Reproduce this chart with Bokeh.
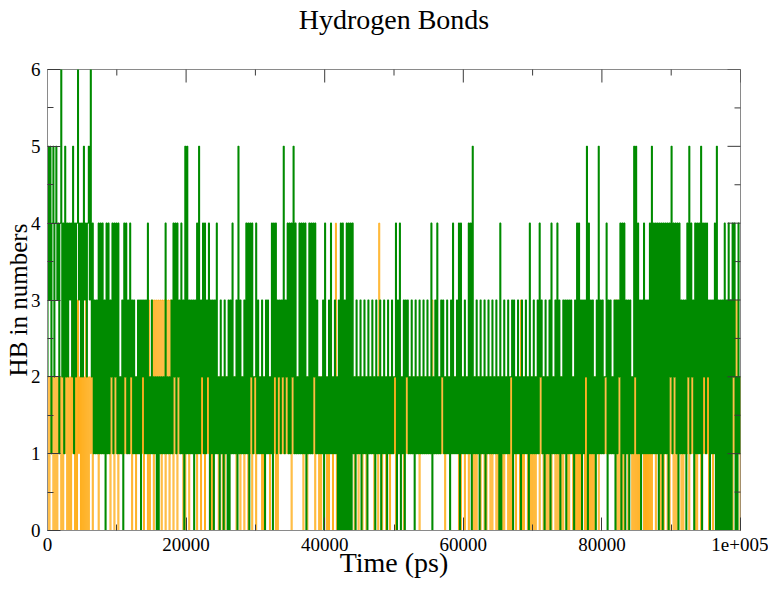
import numpy as np
from bokeh.plotting import figure
from bokeh.models import Range1d, FixedTicker, LinearAxis
from bokeh.embed import file_html
from bokeh.resources import INLINE

# ---- data: number of hydrogen bonds per frame ----
T_START = 0
T_END = 100000

# set 0 (orange)
HB_SET0 = (
    "0202120202" "0212020212" "0202021202" "0312020203" "0202120212"
    "1202121212" "1212021202" "1202121212" "1212120212" "0212121202"
    "1203021303" "1303130313" "0313031202" "1202121202" "0212021212"
    "1202120212" "0212120202" "1212021202" "0212021212" "1202120212"
    "0212021202" "1202121202" "0212120212" "1202021212" "1212121202"
    "1312121212" "0212021212" "1202120202" "1212020212" "0214020212"
    "0212021202" "1202120212" "0212021212" "1202120412" "0212021202"
    "1212021212" "1202121212" "1212121202" "1212121212" "1312121212"
    "1212021212" "1212121202" "0212021202" "1202020212" "0212020212"
    "0202120202" "1202021202" "0202120212" "0302021202" "0202020212"
    "0212020202" "0302120202" "0202021202" "0212020202" "0202120202"
    "0202020212" "0212121212" "1212121303" "0202020212" "0212020202"
    "0202120202" "0202021202" "1202020212" "0202120202" "0212020212"
    "1202121202" "0212021212" "1202120212" "0212021202" "1202120313"
    "03120"
)

# set 1 (green)
HB_SET1 = (
    "2535145245" "3414624152" "4243425142" "4634242534" "2453624"
    "1313141414" "1304141324" "1424141213" "0424131423" "1312131303"
    "2313141213" "1212020212" "1214121213" "1424142314" "1305151313"
    "1303141513" "2414132403" "1303141203" "1203120303" "1412130513"
    "1213141404" "2412241312" "1312031312" "1404241323" "1325132414"
    "1425141214" "1414140214" "1414241312" "1213041213" "1412131203"
    "0404030404" "0404120312" "1302131203" "1213120312" "1302131203"
    "1213122403" "1402130323" "1213120312" "1312131213" "1214021314"
    "1213231213" "1203141213" "1404121312" "1414051213" "1203121302"
    "1312131213" "1204021312" "1312230312" "1312031213" "1204121312"
    "1314231203" "1213041213" "1413021313" "0313131203" "1414130313"
    "2504131312" "0315131312" "2403131213" "0313240414" "0313031215"
    "2514130314" "1313141514" "1414041404" "1414042514" "2414041313"
    "1304251423" "0414141504" "2414230313" "1405030303" "0403040304"
    "24020412"
)

hb_orange = [int(c) for c in HB_SET0]
hb_green = [int(c) for c in HB_SET1]
time_orange = np.linspace(T_START, T_END, len(hb_orange))
time_green = np.linspace(T_START, T_END, len(hb_green))

x_major = [0, 20000, 40000, 60000, 80000, 100000]
x_minor = [10000, 30000, 50000, 70000, 90000]
x_labels = ["0", "20000", "40000", "60000", "80000", "1e+005"]
y_major = [0, 1, 2, 3, 4, 5, 6]
y_minor = [0.5, 1.5, 2.5, 3.5, 4.5, 5.5]
y_labels = ["0", "1", "2", "3", "4", "5", "6"]

TITLE = "Hydrogen Bonds"
XLABEL = "Time (ps)"
YLABEL = "HB in numbers"

ORANGE = "#FFA500"
GREEN = "#008B00"
FRAME = "#8a8a8a"
TICK = "#3a3a3a"
FONT = "Liberation Serif"

p = figure(
    width=768, height=580,
    x_range=Range1d(0, 100000), y_range=Range1d(0, 6),
    x_axis_type=None, y_axis_type=None,
    output_backend="svg", toolbar_location=None,
    min_border_left=47, min_border_right=28,
    min_border_top=67, min_border_bottom=49,
    title=None,
)
p.grid.visible = False
p.background_fill_color = "white"
p.border_fill_color = "white"
p.outline_line_color = FRAME
p.outline_line_width = 1


def make_axis(ticks, minor, labels):
    ax = LinearAxis(ticker=FixedTicker(ticks=ticks, minor_ticks=minor))
    ax.major_tick_in = 13
    ax.major_tick_out = 0
    ax.minor_tick_in = 6
    ax.minor_tick_out = 0
    ax.axis_line_color = FRAME
    ax.major_tick_line_color = TICK
    ax.minor_tick_line_color = TICK
    ax.major_label_overrides = {t: l for t, l in zip(ticks, labels)}
    ax.major_label_text_font = FONT
    ax.major_label_text_font_size = "19px"
    ax.major_label_text_color = "black"
    ax.axis_label_text_font = FONT
    ax.axis_label_text_font_style = "normal"
    ax.axis_label_text_color = "black"
    return ax


bottom = make_axis(x_major, x_minor, x_labels)
bottom.major_label_standoff = 7
bottom.axis_label = XLABEL
bottom.axis_label_text_font_size = "28px"
bottom.axis_label_standoff = -7

left = make_axis(y_major, y_minor, y_labels)
left.major_label_standoff = 7
left.axis_label = YLABEL
left.axis_label_text_font_size = "25px"
left.axis_label_standoff = -4

# title carried by a tick-less axis above the frame
top = LinearAxis(ticker=FixedTicker(ticks=[], minor_ticks=[]))
top.axis_line_color = None
top.major_tick_line_color = None
top.minor_tick_line_color = None
top.major_tick_in = 0
top.major_tick_out = 0
top.minor_tick_in = 0
top.minor_tick_out = 0
top.major_label_standoff = 0
top.axis_label = TITLE
top.axis_label_text_font = FONT
top.axis_label_text_font_size = "28px"
top.axis_label_text_font_style = "normal"
top.axis_label_text_color = "black"
top.axis_label_standoff = 35

p.add_layout(bottom, "below")
p.add_layout(left, "left")
p.add_layout(top, "above")

# data: dense frame-to-frame changes drawn as vertical transitions
p.step(time_orange, hb_orange, mode="center", line_color=ORANGE, line_width=0.9)
p.step(time_green, hb_green, mode="center", line_color=GREEN, line_width=1.1)

# mirrored inward ticks on the top and right edges (half of each dash is clipped)
p.scatter(x=x_major, y=[6] * len(x_major), marker="dash", size=26,
          angle=np.pi / 2, line_color=TICK, line_width=1)
p.scatter(x=x_minor, y=[6] * len(x_minor), marker="dash", size=12,
          angle=np.pi / 2, line_color=TICK, line_width=1)
p.scatter(x=[100000] * len(y_major), y=y_major, marker="dash", size=26,
          line_color=TICK, line_width=1)
p.scatter(x=[100000] * len(y_minor), y=y_minor, marker="dash", size=12,
          line_color=TICK, line_width=1)

open("out.html", "w").write(file_html(p, INLINE))
